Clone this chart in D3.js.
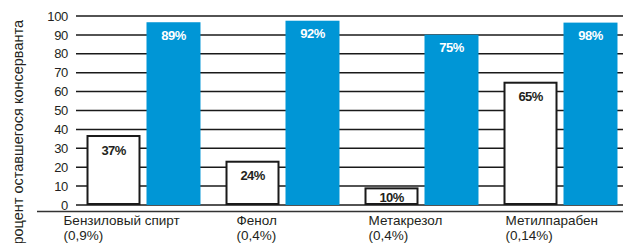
<!DOCTYPE html>
<html>
<head>
<meta charset="utf-8">
<script src="https://cdn.jsdelivr.net/npm/d3@7"></script>
<style>
  body { margin: 0; background: #fff; }
  svg text { font-family: "Liberation Sans", Arial, sans-serif; fill: #231f20; }
</style>
</head>
<body>
<div id="chart"></div>
<script>

var width = 623,
height = 243;

// data
var categories = ["Бензиловый спирт", "Фенол", "Метакрезол", "Метилпарабен"];
var subtitles = ["(0,9%)", "(0,4%)", "(0,4%)", "(0,14%)"];
var whiteValues = [36.5, 22.9, 8.8, 64.7];
var blueValues = [96.7, 97.5, 90.1, 96.5];
var whiteLabels = ["37%", "24%", "10%", "65%"];
var blueLabels = ["89%", "92%", "75%", "98%"];
var yTicks = [0, 10, 20, 30, 40, 50, 60, 70, 80, 90, 100];

// small left nudges for the category labels, as in the original layout
var labelDx = [-23, 11, 4, 2];

var blue = "#0096d6";

var svg = d3.select("#chart")
.append("svg")
.attr("width", width)
.attr("height", height);

var y = d3.scaleLinear()
.domain([0, 100])
.range([205, 16]);

var x = d3.scaleBand()
.domain(categories)
.range([74, 630])
.paddingInner(0.18)
.paddingOuter(0.09);

var xSub = d3.scaleBand()
.domain(["white", "blue"])
.range([0, x.bandwidth()])
.paddingInner(0.1);

// gridlines
svg.append("g")
.selectAll("line")
.data(yTicks)
.enter()
.append("line")
.attr("x1", 76)
.attr("x2", width)
.attr("y1", function(d) { return y(d); })
.attr("y2", function(d) { return y(d); })
.attr("stroke", "#1a1a1a")
.attr("stroke-width", 1.5);

// tick labels
svg.append("g")
.selectAll("text")
.data(yTicks)
.enter()
.append("text")
.attr("x", 68)
.attr("y", function(d) { return y(d); })
.attr("dy", "0.36em")
.attr("text-anchor", "end")
.style("font-size", "13px")
.style("letter-spacing", "-0.3px")
.text(function(d) { return d; });

// y title (runs off the bottom as in the original)
svg.append("text")
.attr("transform", "translate(23,20) rotate(-90)")
.attr("text-anchor", "end")
.style("font-size", "14.5px")
.text("Процент оставшегося консерванта");

var groups = svg.append("g")
.selectAll("g")
.data(categories)
.enter()
.append("g")
.attr("transform", function(d) { return "translate(" + x(d) + ",0)"; });

// white bars
groups.append("rect")
.attr("x", xSub("white") + 1)
.attr("y", function(d, i) { return y(whiteValues[i]); })
.attr("width", xSub.bandwidth() - 2)
.attr("height", function(d, i) { return y(0) - y(whiteValues[i]) - 1; })
.attr("fill", "#fff")
.attr("stroke", "#1a1a1a")
.attr("stroke-width", 2);

// blue bars
groups.append("rect")
.attr("x", xSub("blue"))
.attr("y", function(d, i) { return y(blueValues[i]); })
.attr("width", xSub.bandwidth())
.attr("height", function(d, i) { return y(0) - y(blueValues[i]); })
.attr("fill", blue);

// labels inside bars
groups.append("text")
.attr("x", xSub("white") + xSub.bandwidth() / 2)
.attr("y", function(d, i) { return Math.min(y(whiteValues[i]) + 14, y(0) - 8); })
.attr("dy", "0.36em")
.attr("text-anchor", "middle")
.style("font-size", "13px")
.style("font-weight", "bold")
.style("letter-spacing", "-0.6px")
.text(function(d, i) { return whiteLabels[i]; });

groups.append("text")
.attr("x", xSub("blue") + xSub.bandwidth() / 2)
.attr("y", function(d, i) { return y(blueValues[i]) + 13; })
.attr("dy", "0.36em")
.attr("text-anchor", "middle")
.style("font-size", "13px")
.style("font-weight", "bold")
.style("letter-spacing", "-0.6px")
.style("fill", "#fff")
.text(function(d, i) { return blueLabels[i]; });

// x axis line
svg.append("line")
.attr("x1", 37)
.attr("x2", width)
.attr("y1", 211.5)
.attr("y2", 211.5)
.attr("stroke", "#333")
.attr("stroke-width", 1.5);

// category labels
groups.append("text")
.attr("x", function(d, i) { return labelDx[i]; })
.attr("y", 220)
.attr("dy", "0.36em")
.style("font-size", "13.5px")
.text(function(d) { return d; });

groups.append("text")
.attr("x", function(d, i) { return labelDx[i]; })
.attr("y", 235.5)
.attr("dy", "0.36em")
.style("font-size", "13.5px")
.text(function(d, i) { return subtitles[i]; });

</script>
</body>
</html>
